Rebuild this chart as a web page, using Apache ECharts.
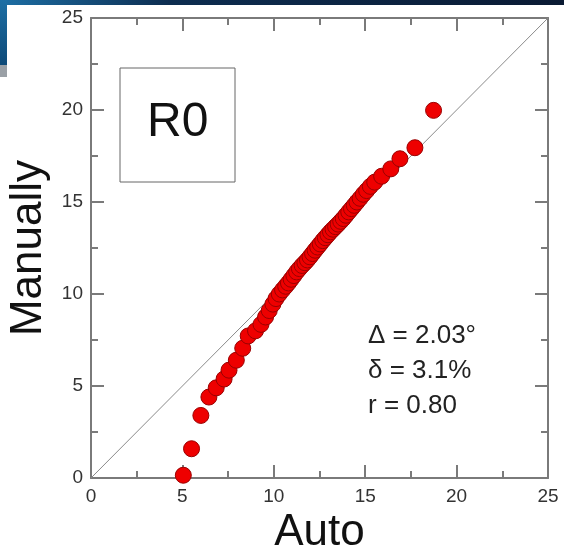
<!DOCTYPE html>
<html>
<head>
<meta charset="utf-8">
<script src="https://cdn.jsdelivr.net/npm/echarts@6/dist/echarts.min.js"></script>
<style>html,body{margin:0;padding:0;background:#fff;}#c{width:564px;height:552px;}</style>
</head>
<body>
<div id="c"></div>
<script>
var autoValues = [5.05,5.50,6.01,6.45,6.85,7.28,7.55,7.95,8.30,8.60,9.00,9.30,9.55,9.75,9.95,10.12,10.30,10.48,10.65,10.80,10.95,11.10,11.25,11.40,11.55,11.70,11.84,11.98,12.12,12.26,12.40,12.54,12.68,12.82,12.96,13.10,13.24,13.38,13.52,13.66,13.80,13.95,14.10,14.25,14.40,14.55,14.72,14.90,15.08,15.28,15.52,15.90,16.40,16.90,17.72,18.74];
var manualValues = [0.15,1.59,3.40,4.40,4.90,5.38,5.86,6.40,7.05,7.72,8.00,8.35,8.75,9.10,9.45,9.75,10.00,10.22,10.42,10.60,10.80,11.00,11.20,11.38,11.55,11.70,11.85,12.02,12.20,12.38,12.55,12.72,12.90,13.06,13.22,13.38,13.52,13.66,13.80,13.95,14.10,14.28,14.46,14.64,14.82,15.00,15.20,15.42,15.62,15.85,16.08,16.40,16.80,17.35,17.95,19.98];
var axisTicks = [0,5,10,15,20,25];
var statLines = ['\u0394 = 2.03\u00b0','\u03b4 = 3.1%','r = 0.80'];
var panelLabel = 'R0';

var pts = autoValues.map(function(v,i){return [v, manualValues[i]];});
var axisMin = axisTicks[0], axisMax = axisTicks[axisTicks.length-1];
var gray = '#7a7a7a';
var font = 'Liberation Sans, Arial, sans-serif';

function mkAxis(pos, showLabel, name){
  return {
    type: 'value', position: pos, min: axisMin, max: axisMax, interval: 5,
    name: name || '', nameLocation: 'middle',
    nameTextStyle: {fontSize: 44, color: '#111', fontFamily: font},
    axisLine: {show: true, onZero: false, lineStyle: {color: gray, width: 2}},
    axisTick: {show: true, inside: true, length: 13, lineStyle: {color: gray, width: 2}},
    minorTick: {show: true, splitNumber: 2, length: 7, lineStyle: {color: gray, width: 2}},
    splitLine: {show: false},
    axisLabel: {show: showLabel, fontSize: 19, color: '#333', fontFamily: font, margin: 9}
  };
}
var x0 = mkAxis('bottom',true,'Auto'); x0.nameGap = 33;
var x1 = mkAxis('top',false);
var y0 = mkAxis('left',true,'Manually'); y0.nameGap = 32; y0.axisLabel.margin = 8;
var y1 = mkAxis('right',false);

var chart = echarts.init(document.getElementById('c'), null, {renderer: 'canvas'});
chart.setOption({
  animation: false,
  backgroundColor: '#fff',
  grid: {left: 91, right: 16, top: 18, bottom: 74, containLabel: false, outerBoundsMode: 'none'},
  xAxis: [x0, x1],
  yAxis: [y0, y1],
  series: [
    {type: 'line', data: [[axisMin,axisMin],[axisMax,axisMax]], symbol: 'none',
     lineStyle: {color: '#8a8a8a', width: 1}, silent: true, z: 1},
    {type: 'scatter', data: pts, symbol: 'circle', symbolSize: 16,
     itemStyle: {color: '#ee0000', borderColor: '#9a0000', borderWidth: 1, opacity: 1}, z: 2}
  ],
  graphic: [
    {type: 'rect', left: 0, top: 0, shape: {width: 564, height: 5},
     style: {fill: new echarts.graphic.LinearGradient(0,0,1,0,[{offset:0,color:'#1d6fa5'},{offset:0.3,color:'#0d2d50'},{offset:1,color:'#0a1a33'}])}},
    {type: 'rect', left: 0, top: 0, shape: {width: 7, height: 65},
     style: {fill: new echarts.graphic.LinearGradient(0,0,0,1,[{offset:0,color:'#1d6fa5'},{offset:1,color:'#0e4a78'}])}},
    {type: 'rect', left: 0, top: 65, shape: {width: 7, height: 12}, style: {fill: '#9aa0a6'}},
    {type: 'rect', left: 119.5, top: 67.5, shape: {width: 115, height: 114},
     style: {fill: 'transparent', stroke: '#666', lineWidth: 1}},
    {type: 'text', left: 147, top: 99, style: {text: panelLabel, fontSize: 48, fill: '#111', fontFamily: font}},
    {type: 'text', left: 368, top: 323, style: {text: statLines[0], fontSize: 26, fill: '#222', fontFamily: font}},
    {type: 'text', left: 368, top: 358, style: {text: statLines[1], fontSize: 26, fill: '#222', fontFamily: font}},
    {type: 'text', left: 368, top: 393, style: {text: statLines[2], fontSize: 26, fill: '#222', fontFamily: font}}
  ]
});
</script>
</body>
</html>
